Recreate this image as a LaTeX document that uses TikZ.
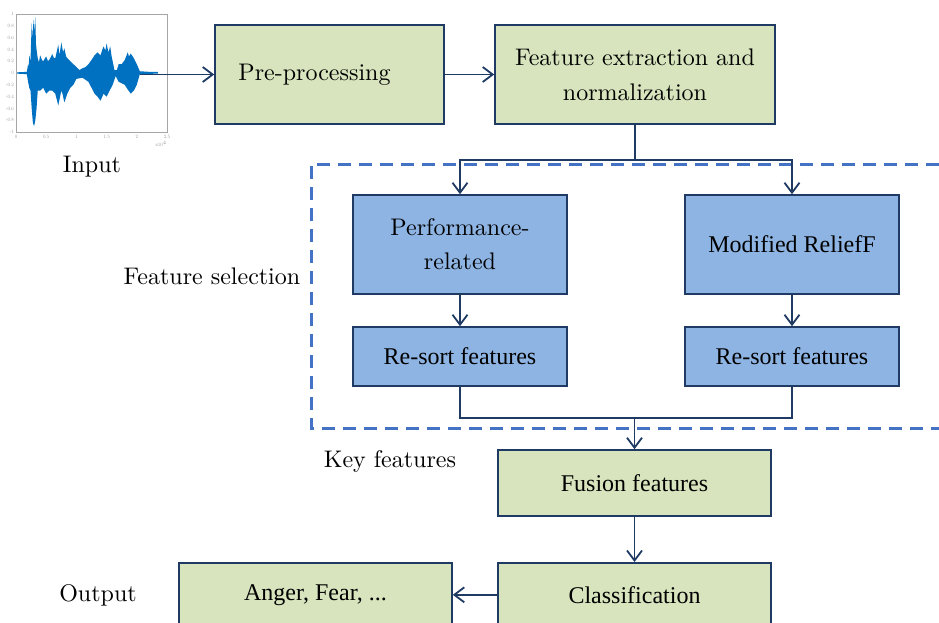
\documentclass[tikz,border=0pt]{standalone}
\usepackage{fontspec}
\setmainfont{lmroman10-regular}[Extension=.otf, BoldFont=lmroman10-bold, ItalicFont=lmroman10-italic]
\newfontfamily\tms{Liberation Serif}
\usetikzlibrary{arrows.meta}
\definecolor{navy}{HTML}{1F3B64}
\definecolor{greenfill}{HTML}{D7E4BD}
\definecolor{bluefill}{HTML}{8EB4E3}
\definecolor{dashblue}{HTML}{4472C4}
\definecolor{wave}{HTML}{0070C0}
\tikzset{
  greenbox/.style={draw=navy, line width=1.6pt, fill=greenfill, inner sep=0pt, align=center, font=\fontsize{24}{35}\selectfont},
  bluebox/.style={draw=navy, line width=1.6pt, fill=bluefill, inner sep=0pt, align=center, font=\fontsize{24}{34}\selectfont},
  lbl/.style={inner sep=0pt, font=\fontsize{24}{29}\selectfont},
  conn/.style={draw=navy, line width=1.8pt},
  arr/.style={conn, -{Straight Barb[length=10pt,width=15pt,line width=1.8pt]}},
  dashbox/.style={draw=dashblue, line width=3pt, dash pattern=on 13pt off 8pt},
  ticklbl/.style={inner sep=0pt, text=gray!85, font=\fontsize{5}{5}\selectfont}
}
\begin{document}
\begin{tikzpicture}[x=1pt,y=-1pt]
\useasboundingbox (0,0) rectangle (939,623);

% waveform plot
\begin{scope}[shift={(16,73)}, x=60.4pt, y=59pt]
  \fill[wave] (0,0.01)--(0.18,0.02)--(0.2,0.15)--(0.21,0.1)--(0.22,0.3)--(0.24,0.2)--(0.26,0.85)--(0.27,0.6)--(0.29,0.9)--(0.3,0.7)--(0.32,0.95)--(0.33,0.5)--(0.34,0.4)--(0.36,0.25)--(0.38,0.18)--(0.4,0.3)--(0.43,0.22)--(0.45,0.2)--(0.5,0.28)--(0.53,0.2)--(0.55,0.22)--(0.6,0.32)--(0.63,0.25)--(0.65,0.25)--(0.7,0.48)--(0.72,0.3)--(0.75,0.52)--(0.78,0.35)--(0.8,0.42)--(0.83,0.28)--(0.85,0.25)--(0.9,0.2)--(0.95,0.15)--(1.0,0.1)--(1.05,0.05)--(1.1,0.08)--(1.15,0.1)--(1.2,0.15)--(1.25,0.22)--(1.3,0.3)--(1.35,0.35)--(1.4,0.3)--(1.43,0.4)--(1.45,0.45)--(1.48,0.38)--(1.5,0.5)--(1.53,0.35)--(1.56,0.45)--(1.58,0.3)--(1.6,0.2)--(1.63,0.05)--(1.67,0.05)--(1.7,0.15)--(1.75,0.15)--(1.8,0.22)--(1.85,0.35)--(1.87,0.28)--(1.9,0.33)--(1.95,0.25)--(2.0,0.15)--(2.05,0.03)--(2.2,0.02)--(2.35,0.02)
  --(2.35,-0.01)--(2.05,-0.02)--(2.0,-0.2)--(1.95,-0.3)--(1.9,-0.35)--(1.85,-0.28)--(1.8,-0.2)--(1.7,-0.15)--(1.65,-0.05)--(1.6,-0.2)--(1.55,-0.3)--(1.5,-0.4)--(1.45,-0.35)--(1.4,-0.47)--(1.35,-0.4)--(1.3,-0.35)--(1.25,-0.25)--(1.2,-0.15)--(1.1,-0.08)--(1.0,-0.1)--(0.95,-0.2)--(0.9,-0.25)--(0.85,-0.35)--(0.8,-0.5)--(0.77,-0.35)--(0.75,-0.3)--(0.72,-0.45)--(0.7,-0.55)--(0.65,-0.35)--(0.6,-0.3)--(0.55,-0.3)--(0.5,-0.35)--(0.45,-0.25)--(0.4,-0.3)--(0.36,-0.3)--(0.34,-0.6)--(0.32,-0.8)--(0.3,-0.9)--(0.28,-0.85)--(0.26,-0.6)--(0.24,-0.3)--(0.22,-0.25)--(0.2,-0.15)--(0.18,-0.02)--(0,-0.01)--cycle;
  \draw[gray!70, line width=0.6pt] (0,-1) rectangle (2.5,1);
  \foreach \v/\t in {1/1,0.8/0.8,0.6/0.6,0.4/0.4,0.2/0.2,0/0,-0.2/-0.2,-0.4/-0.4,-0.6/-0.6,-0.8/-0.8,-1/-1}
    \node[ticklbl, anchor=east] at (-0.03,\v) {\t};
  \foreach \v in {0,0.5,1,1.5,2,2.5}
    \node[ticklbl, anchor=north] at (\v,-1.05) {\v};
  \node[ticklbl, anchor=north east] at (2.5,-1.15) {x10$^4$};
\end{scope}
\coordinate (wavend) at (140,74.5);

% boxes
\node[greenbox, minimum width=229pt, minimum height=99pt] (pre) at (329.5,74.5) {\hspace*{-30pt}Pre-processing};
\node[greenbox, minimum width=280pt, minimum height=99pt] (fe) at (635,74.5) {Feature extraction and\\normalization};
\node[bluebox, minimum width=214pt, minimum height=99pt] (perf) at (460,244.5) {Performance-\\related};
\node[bluebox, minimum width=214pt, minimum height=99pt, font=\tms\fontsize{24}{29}\selectfont] (relief) at (792,244.5) {Modified ReliefF};
\node[bluebox, minimum width=214pt, minimum height=59pt, font=\tms\fontsize{24}{29}\selectfont] (rs1) at (460,356.5) {Re-sort features};
\node[bluebox, minimum width=214pt, minimum height=59pt, font=\tms\fontsize{24}{29}\selectfont] (rs2) at (792,356.5) {Re-sort features};
\node[greenbox, minimum width=273pt, minimum height=66pt, font=\tms\fontsize{24}{29}\selectfont] (fusion) at (634.5,483) {Fusion features};
\node[greenbox, minimum width=273pt, minimum height=64pt, anchor=north, font=\tms\fontsize{24}{29}\selectfont] (cls) at (634.5,562) {Classification};
\node[greenbox, minimum width=273pt, minimum height=64pt, anchor=north, font=\tms\fontsize{24}{29}\selectfont] (anger) at (315.5,562) {Anger, Fear, ...};

% labels
\node[lbl] (input) at (92,167) {Input};
\node[lbl] (fsel) at (212,276) {Feature selection};
\node[lbl] (key) at (390,461) {Key features};
\node[lbl] (out) at (98,595) {Output};

% dashed selection region
\draw[dashbox] (960,164) -| (311,428) -- (960,428);

% connectors
\coordinate (split) at (635,160);
\coordinate (merge) at (634.5,418);
\draw[arr] (wavend) -- (pre.west);
\draw[arr] (pre.east) -- (fe.west);
\draw[conn] (fe.south) -- (split);
\draw[arr] (split) -| (perf.north);
\draw[arr] (split) -| (relief.north);
\draw[arr] (perf) -- (rs1);
\draw[arr] (relief) -- (rs2);
\draw[conn] (rs1.south) |- (merge);
\draw[conn] (rs2.south) |- (merge);
\draw[arr] (merge) -- (fusion.north);
\draw[arr] (fusion) -- (cls);
\draw[arr] (cls.west) -- (anger.east);
\end{tikzpicture}
\end{document}
